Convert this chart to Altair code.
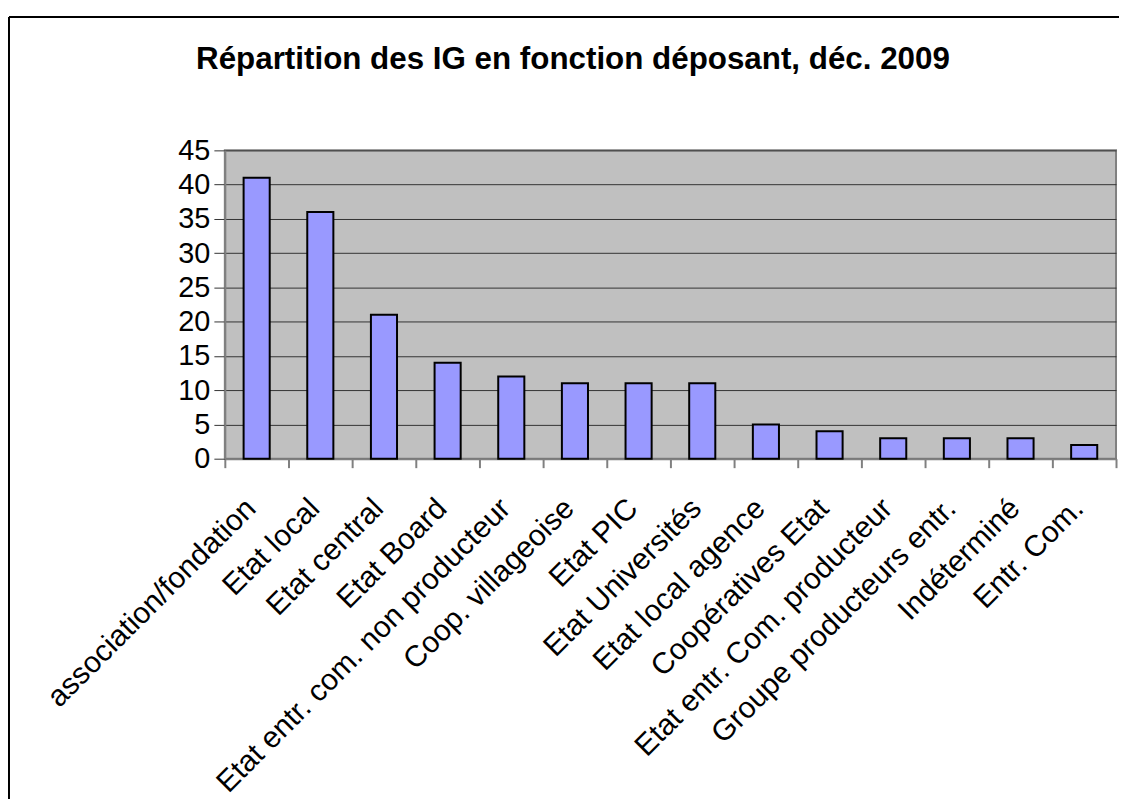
import altair as alt
import pandas as pd

categories = [
    "association/fondation", "Etat local", "Etat central", "Etat Board",
    "Etat entr. com. non producteur", "Coop. villageoise", "Etat PIC",
    "Etat Universités", "Etat local agence", "Coopératives Etat",
    "Etat entr. Com. producteur", "Groupe producteurs entr.", "Indéterminé",
    "Entr. Com.",
]
values = [41, 36, 21, 14, 12, 11, 11, 11, 5, 4, 3, 3, 3, 2]
y_ticks = [0, 5, 10, 15, 20, 25, 30, 35, 40, 45]
title_text = "Répartition des IG en fonction déposant, déc. 2009"

df = pd.DataFrame({"cat": categories, "val": values})
FONT = "Liberation Sans"
W, H = 896, 310

bars = alt.Chart(df).mark_bar(
    width=alt.RelativeBandSize(0.41),
    color="#9999FF",
    stroke="#000000",
    strokeWidth=2,
).encode(
    x=alt.X("cat:N", sort=categories, title=None,
            scale=alt.Scale(paddingInner=0, paddingOuter=0),
            axis=alt.Axis(labelAngle=-45, labelAlign="right", labelBaseline="middle",
                          labelFontSize=30, labelFont=FONT, labelColor="#000000",
                          tickBand="extent", tickSize=9, tickColor="#808080", tickWidth=2,
                          domainColor="#808080", domainWidth=2, labelPadding=36,
                          labelOffset=-6, grid=False, labelLimit=600)),
    y=alt.Y("val:Q", title=None,
            scale=alt.Scale(domain=[0, 45], nice=False),
            axis=alt.Axis(values=y_ticks, labelFontSize=29, labelFont=FONT,
                          labelColor="#000000", tickSize=11, tickColor="#333333",
                          domainColor="#808080", domainWidth=2, labelPadding=4,
                          grid=True, gridColor="#333333", gridWidth=1)),
)

frame_df = pd.DataFrame({"k": [0]})
left_border = alt.Chart(frame_df).mark_rule(color="#000000", strokeWidth=2).encode(
    x=alt.value(-217), y=alt.value(-134), y2=alt.value(H + 400))
top_border = alt.Chart(frame_df).mark_rule(color="#000000", strokeWidth=2).encode(
    x=alt.value(-217), x2=alt.value(W + 100), y=alt.value(-134))

chart = alt.layer(bars, left_border, top_border).properties(
    width=W, height=H,
    autosize=alt.AutoSizeParams(type="none"),
    padding={"left": 218, "top": 141, "right": 3, "bottom": 340},
    view=alt.ViewBackground(fill="#C0C0C0", stroke="#808080", strokeWidth=2),
    title=alt.TitleParams(title_text, font=FONT, fontSize=31.5, fontWeight="bold",
                          color="#000000", anchor="middle", frame="group", dx=-98,
                          offset=-85, baseline="alphabetic"),
).configure(background="#FFFFFF")

chart.save("out.html", embed_options={"renderer": "svg", "actions": False})
